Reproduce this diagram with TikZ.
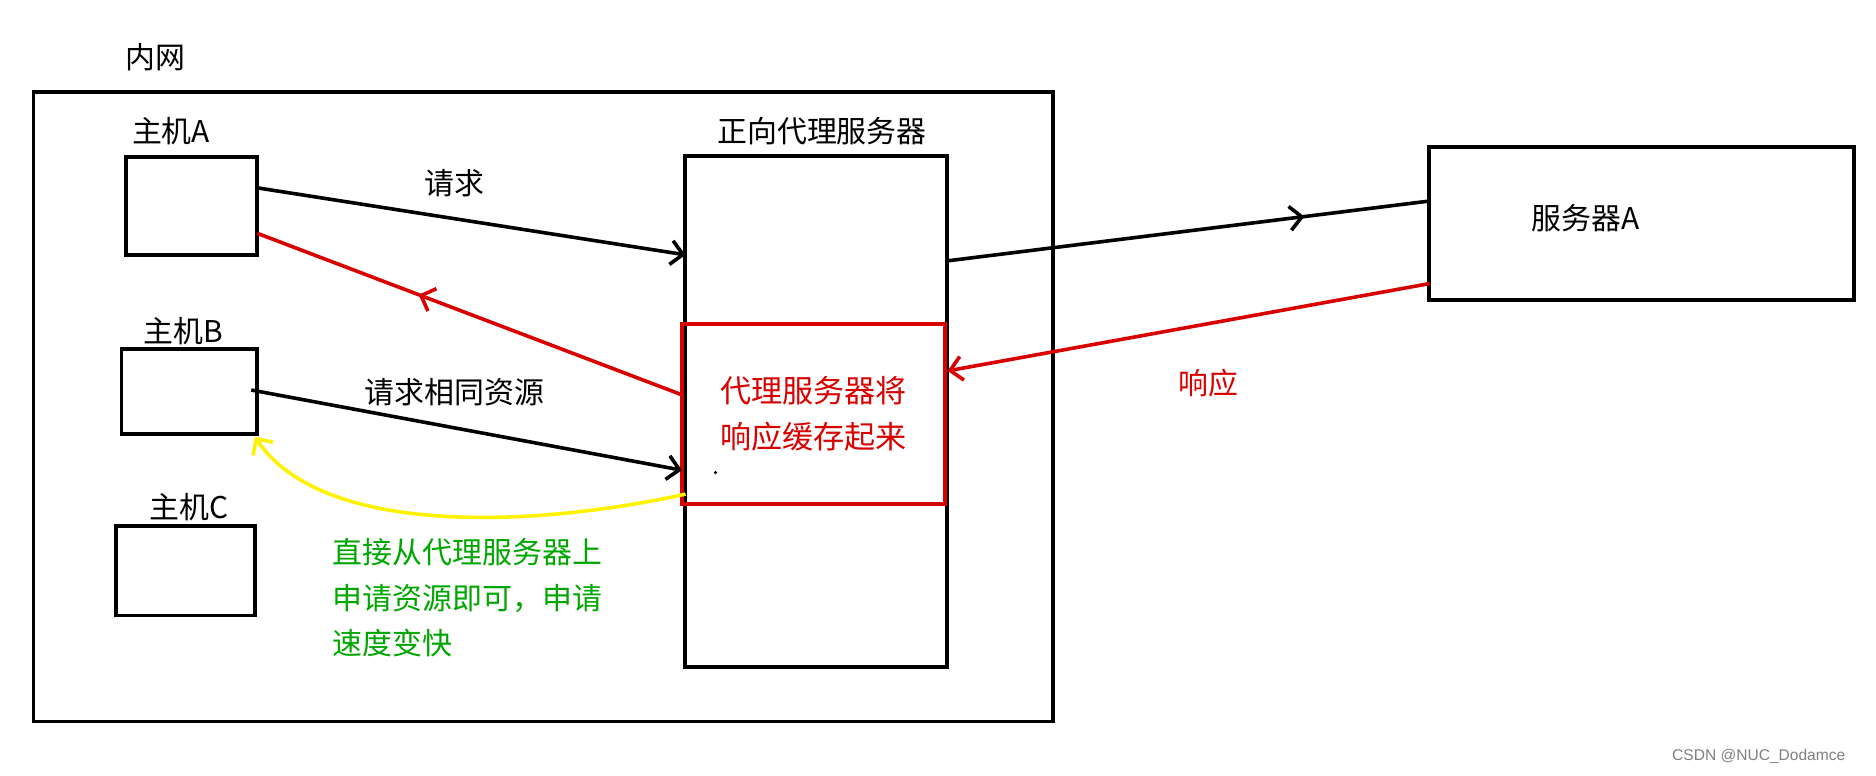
\documentclass[tikz,border=0pt]{standalone}
\usepackage{fontspec}
\setmainfont{Liberation Serif}
\newfontfamily\cjk{Noto Sans CJK SC}
\usetikzlibrary{decorations.markings,arrows.meta}
\begin{document}
\begin{tikzpicture}[x=1pt,y=-1pt,
  box/.style={draw,line width=3.2pt},
  lbl/.style={font=\cjk\fontsize{25}{30}\selectfont,inner sep=0},
  ln/.style={line width=3pt},
  tip/.style={-{Straight Barb[length=10pt,width=20pt,line width=3pt]}},
  midtip/.style={postaction={decorate},decoration={markings,mark=at position #1 with {\arrow{Straight Barb[length=10pt,width=20pt,line width=3pt]}}}}]
\useasboundingbox[fill=white] (0,0) rectangle (1568,648);
\node[lbl] (inner) at (130,48) {内网};
\draw[box] (28,77) rectangle (880,603);
\node[lbl] (la) at (143,110) {主机A};
\node[box,minimum width=110pt,minimum height=82pt] (A) at (160,172) {};
\node[lbl] (lb) at (153,277) {主机B};
\node[box,minimum width=113pt,minimum height=71pt] (B) at (158,327) {};
\node[lbl] (lc) at (158,424) {主机C};
\node[box,minimum width=116pt,minimum height=75pt] (C) at (155,477) {};
\node[lbl] (lp) at (687,110) {正向代理服务器};
\node[box,minimum width=219pt,minimum height=427pt] (P) at (682,344) {};
\node[box,draw=red!85!black,minimum width=220pt,minimum height=151pt,lbl,text=red!85!black,align=center,font=\cjk\fontsize{26}{38}\selectfont] (R) at (680,346) {代理服务器将\\响应缓存起来};
\fill (598,395) circle (1.5pt);
\node[box,minimum width=355pt,minimum height=128pt] (S) at (1372,187) {};
\node[lbl] (ls) at (1325,182) {服务器A};
\coordinate (a1) at (215,157); \coordinate (p1) at (573,213);
\draw[ln,tip] (a1) -- (p1);
\node[lbl] (q1) at (380,153) {请求};
\coordinate (r1) at (570,330); \coordinate (a2) at (215,195);
\draw[ln,red!85!black,midtip=0.62] (r1) -- (a2);
\coordinate (b1) at (210,326); \coordinate (p2) at (570,393);
\draw[ln,tip] (b1) -- (p2);
\node[lbl] (q2) at (380,328) {请求相同资源};
\coordinate (y1) at (573,413); \coordinate (b2) at (213,365);
\draw[ln,yellow,tip] (y1) .. controls (450,440) and (270,450) .. (b2);
\coordinate (p3) at (792,218); \coordinate (s1) at (1195,168);
\draw[ln,midtip=0.74] (p3) -- (s1);
\coordinate (s2) at (1195,237); \coordinate (p4) at (792,310);
\draw[ln,red!85!black,tip] (s2) -- (p4);
\node[lbl,text=red!85!black] (resp) at (1010,320) {响应};
\node[lbl,text=green!65!black,anchor=north west,align=left,font=\cjk\fontsize{25}{38}\selectfont] (g) at (278,450) {直接从代理服务器上\\申请资源即可，申请\\速度变快};
\node[font=\fontspec{Liberation Sans}\fontsize{13}{15}\selectfont,text=gray] (wm) at (1470,632) {CSDN @NUC\_Dodamce};
\end{tikzpicture}
\end{document}
